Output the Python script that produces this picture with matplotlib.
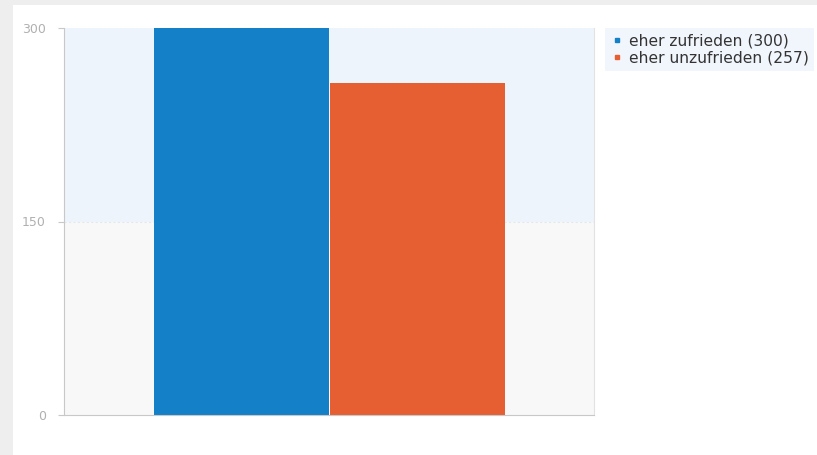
import matplotlib.pyplot as plt
from matplotlib.patches import Rectangle
from matplotlib.lines import Line2D

labels = ["eher zufrieden", "eher unzufrieden"]
values = [300, 257]
colors = ["#1380c8", "#e65f32"]
yticks = [0, 150, 300]

W, H = 817, 455
fig = plt.figure(figsize=(W / 100, H / 100), dpi=100)
fig.patch.set_facecolor("#eeeeee")
fig.patches.append(Rectangle((13 / W, 0), 1, 1 - 5 / H, transform=fig.transFigure,
                             facecolor="white", edgecolor="none", zorder=-10))

ax = fig.add_axes([64 / W, 1 - 415 / H, 530 / W, 387 / H])
ax.set_facecolor("none")
ax.axhspan(0, 150, color="#f8f8f8", zorder=0, lw=0)
ax.axhspan(150, 300, color="#eef4fc", zorder=0, lw=0)
ax.axhline(150, color="#e4e8ee", lw=0.8, ls=(0, (2, 2)), zorder=0.5)

pos = [1, 2]
ax.bar(pos, values, width=0.995, color=colors, zorder=2)

ax.set_xlim(-0.006, 3.004)
ax.set_ylim(0, 300)
ax.set_yticks(yticks)
ax.set_xticks([])
ax.spines["top"].set_visible(False)
ax.spines["left"].set_color("#c8c8c8")
ax.spines["bottom"].set_color("#c8c8c8")
ax.spines["right"].set_color("#e2e2e2")
ax.tick_params(axis="y", colors="#c8c8c8", labelcolor="#b0b0b0", labelsize=9, length=4, pad=9)

handles = [Line2D([], [], marker="s", ls="none", color=c, markersize=3.5) for c in colors]
leg_labels = [f"{l} ({v})" for l, v in zip(labels, values)]
leg = fig.legend(handles, leg_labels, loc="upper left", bbox_to_anchor=(605 / W, 1 - 28 / H),
                 frameon=True, fontsize=11.2, handletextpad=0.3, handlelength=0.9,
                 borderpad=0.35, labelspacing=0.12, borderaxespad=0)
leg.get_frame().set_facecolor("#eef4fc")
leg.get_frame().set_edgecolor("none")
leg.get_frame().set_boxstyle("square", pad=0)
for t in leg.get_texts():
    t.set_color("#333333")

fig.savefig("out.png", dpi=100, facecolor=fig.get_facecolor())
